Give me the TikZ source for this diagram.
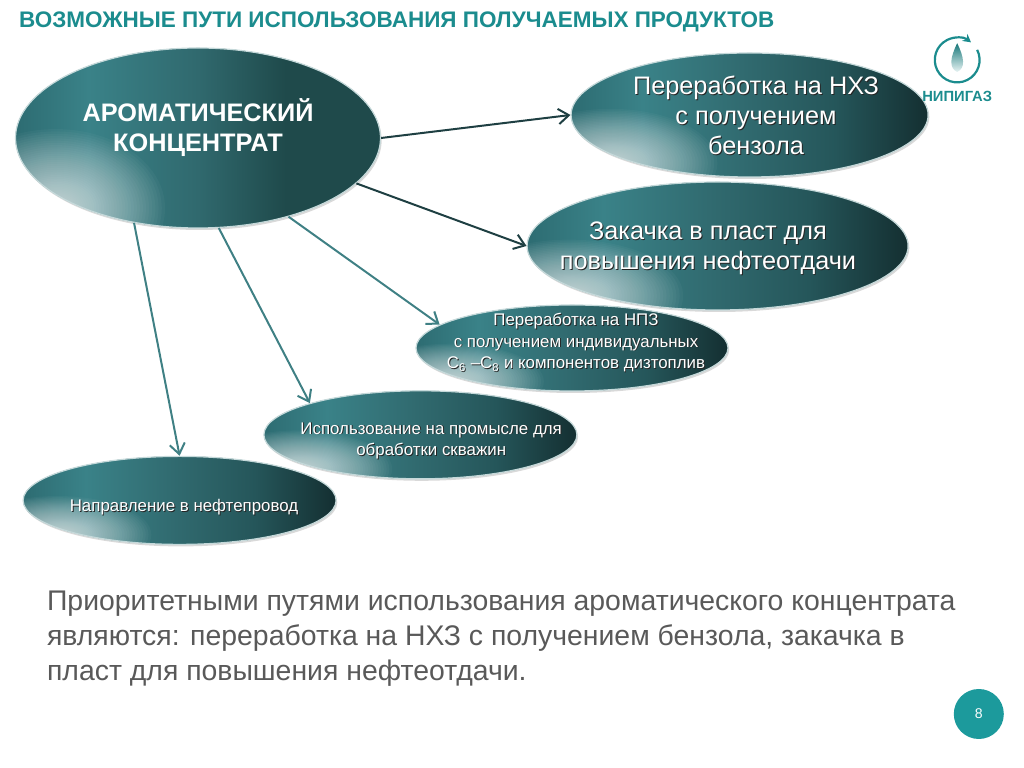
\documentclass[tikz,border=0pt]{standalone}
\usepackage{fontspec}
\setmainfont{Liberation Sans}
\usetikzlibrary{calc,shadows,shapes.geometric,arrows.meta}
\definecolor{titleteal}{HTML}{1B8C8E}
\definecolor{lineteal}{HTML}{3F8084}
\definecolor{linedark}{HTML}{1E3F42}
\definecolor{bodygray}{HTML}{595959}
\definecolor{pagedot}{HTML}{1C9A9C}
\definecolor{blobedge}{HTML}{2D6C72}
\definecolor{blobbright}{HTML}{3A8288}
\definecolor{blobmid}{HTML}{30696E}
\definecolor{blobdeep}{HTML}{25565A}
\definecolor{blobdark}{HTML}{142F31}
\definecolor{blobmaindark}{HTML}{1F4A4B}
\pgfdeclarehorizontalshading{blobaxis}{100bp}{color(0bp)=(blobedge);
	color(25bp)=(blobedge);color(35bp)=(blobbright);color(50bp)=(blobmid);color(62bp)=(blobdeep);color(75bp)=(blobdark);color(100bp)=(blobdark)}
\pgfdeclarehorizontalshading{blobaxismain}{100bp}{color(0bp)=(blobedge);
	color(25bp)=(blobedge);color(35bp)=(blobbright);color(50bp)=(blobmid);color(62bp)=(blobmaindark);color(75bp)=(blobmaindark);color(100bp)=(blobmaindark)}
\newcommand{\shln}[1]{\leavevmode\rlap{\kern0.7pt\raisebox{-0.7pt}{\color{black!85}#1}}#1}
\tikzset{
	blob/.style={ellipse, inner sep=0pt, draw=white!70!lineteal, line width=0.3mm,
		drop shadow={shadow xshift=0.3mm, shadow yshift=-0.5mm, opacity=0.15, fill=black},
		path picture={
			\fill[shading=#1] (path picture bounding box.south west) rectangle (path picture bounding box.north east);
			\foreach \glowr in {0.02,0.04,...,1.0}
				\fill[white, opacity=0.03] let \p1=($(path picture bounding box.north east)-(path picture bounding box.south west)$) in ($(path picture bounding box.south west)!0.11!(path picture bounding box.north east)$) ellipse ({\glowr*sqrt(\glowr)*0.3*\x1} and {\glowr*sqrt(\glowr)*0.44*\y1});
		}},
	blob/.default=blobaxis,
	blobtext/.style={text=white, align=center, inner sep=0pt},
	arrowdark/.style={line width=0.5mm, color=linedark, -{Straight Barb[length=2.6mm,width=3.8mm]}},
	arrowteal/.style={line width=0.5mm, color=lineteal, -{Straight Barb[length=2.6mm,width=3.8mm]}}
}
\begin{document}
\begin{tikzpicture}
	\useasboundingbox (0, 0) rectangle (25.6, 19.2);

	\node[anchor=west, inner sep=0pt, text=titleteal, font=\fontsize{16pt}{18pt}\selectfont\bfseries] (title) at (0.47, 18.65) {ВОЗМОЖНЫЕ ПУТИ ИСПОЛЬЗОВАНИЯ ПОЛУЧАЕМЫХ ПРОДУКТОВ};

	\node[blob=blobaxismain, minimum width=9.125cm, minimum height=4.5cm] (aromatic) at (4.95, 15.75) {};
	\node[blob, minimum width=8.925cm, minimum height=3.1cm] (nhz) at (18.74, 16.325) {};
	\node[blob, minimum width=9.525cm, minimum height=3.2cm] (inject) at (17.94, 13.05) {};
	\node[blob, minimum width=7.8cm, minimum height=2.15cm] (npz) at (14.3, 10.5) {};
	\node[blob, minimum width=7.825cm, minimum height=2.2cm] (field) at (10.51, 8.33) {};
	\node[blob, minimum width=7.825cm, minimum height=2.2cm] (pipeline) at (4.49, 6.69) {};

	\node[blobtext, font=\fontsize{18pt}{21.3pt}\selectfont\bfseries] (aromaticlabel) at (4.95, 16) {АРОМАТИЧЕСКИЙ\\КОНЦЕНТРАТ};
	\node[blobtext, font=\fontsize{18pt}{21.3pt}\selectfont] (nhzlabel) at (18.9, 16.3) {\shln{Переработка на НХЗ}\\\shln{с получением}\\\shln{бензола}};
	\node[blobtext, font=\fontsize{18pt}{21.3pt}\selectfont] (injectlabel) at (17.7, 12.975) {\shln{Закачка в пласт для}\\\shln{повышения нефтеотдачи}};
	\node[blobtext, font=\fontsize{12pt}{15.3pt}\selectfont] (npzlabel) at (14.4, 10.625) {\shln{Переработка на НПЗ}\\\shln{с получением индивидуальных}\\\shln{С\textsubscript{6} –С\textsubscript{8} и компонентов дизтоплив}};
	\node[blobtext, font=\fontsize{12pt}{15pt}\selectfont] (fieldlabel) at (10.78, 8.175) {\shln{Использование на промысле для}\\\shln{обработки скважин}};
	\node[blobtext, font=\fontsize{12pt}{15pt}\selectfont] (pipelinelabel) at (4.6, 6.5) {\shln{Направление в нефтепровод}};

	\draw[arrowdark] (aromatic.0) -- (nhz.west);
	\draw[arrowdark] (aromatic.-16) -- (inject.west);
	\draw[arrowteal] (aromatic.-41) -- (npz.170);
	\draw[arrowteal] (aromatic.-77) -- (field.164);
	\draw[arrowteal] (aromatic.-127) -- (pipeline.north);

	\node[anchor=north west, inner sep=0pt, text=bodygray, align=left, font=\fontsize{20.2pt}{24.9pt}\selectfont] (summary) at (1.17, 4.425) {Приоритетными путями использования ароматического концентрата\\являются: переработка на НХЗ с получением бензола, закачка в\\пласт для повышения нефтеотдачи.};

	\node[circle, fill=pagedot, minimum size=1.25cm, inner sep=0pt, text=white, font=\fontsize{10pt}{12pt}\selectfont] (pagenum) at (24.47, 1.35) {8};

	% logo
	\draw[line width=0.55mm, color=titleteal, -{Stealth[length=2mm,width=2.2mm]}] (23.93, 17.7) ++(27:0.56) arc (27:-308:0.56);
	\shade[top color=titleteal!85!black, bottom color=titleteal!10] (23.93, 18.12) .. controls (23.75, 17.75) and (23.72, 17.5) .. (23.93, 17.4) .. controls (24.14, 17.5) and (24.11, 17.75) .. (23.93, 18.12);
	\node[inner sep=0pt, text=titleteal, font=\fontsize{10.5pt}{12pt}\selectfont\bfseries] (logoname) at (23.93, 16.8) {НИПИГАЗ};
\end{tikzpicture}
\end{document}
